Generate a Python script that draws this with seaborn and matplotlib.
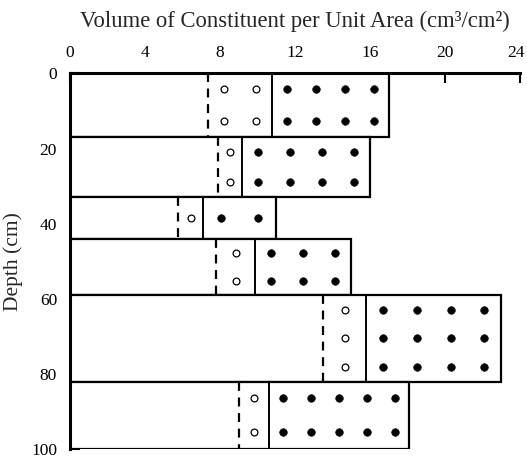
import numpy as np
import pandas as pd
import matplotlib
matplotlib.use("Agg")
import matplotlib.pyplot as plt
import matplotlib.transforms as mtransforms
import seaborn as sns

# Layer depth boundaries (cm)
layer_top = [0, 17, 33, 44, 59, 82]
layer_bottom = [17, 33, 44, 59, 82, 100]
# Cumulative volume (cm3/cm2): dashed line, solid divider, right edge
dashed_x = [7.4, 7.9, 5.8, 7.8, 13.5, 9.0]
divider_x = [10.8, 9.2, 7.1, 9.9, 15.8, 10.6]
total_x = [17.0, 16.0, 11.0, 15.0, 23.0, 18.1]

x_ticks = [0, 4, 8, 12, 16, 20, 24]
y_ticks = [0, 20, 40, 60, 80, 100]

sns.set_theme(style="white")
plt.rcParams["font.family"] = ["Liberation Serif", "DejaVu Serif"]

fig = plt.figure(figsize=(5.27, 4.65), dpi=100)
ax = fig.add_axes([0.132, 0.034, 0.855, 0.808])

# bars for each layer
thick = np.array(layer_bottom) - np.array(layer_top)
ax.barh(layer_top, total_x, height=thick, left=0, align="edge",
        color="white", edgecolor="black", linewidth=1.6, zorder=2)
ax.vlines(dashed_x, layer_top, layer_bottom, colors="black",
          linestyles=(0, (4, 3)), linewidth=1.6, zorder=3)
ax.vlines(divider_x, layer_top, layer_bottom, colors="black",
          linewidth=1.4, zorder=3)

# dot grids inside the open-circle and filled-dot parts
rows = []
for i in range(len(layer_top)):
    nrow = max(1, int(round(thick[i] / 8)))
    ys = layer_top[i] + thick[i] * (np.arange(nrow) + 0.5) / nrow
    for kind, a, b in [("open", dashed_x[i], divider_x[i]),
                       ("filled", divider_x[i], total_x[i])]:
        ncol = max(1, int(round((b - a) / 1.6)))
        xs = a + (b - a) * (np.arange(ncol) + 0.5) / ncol
        for x in xs:
            for y in ys:
                rows.append({"x": x, "y": y, "kind": kind})
dots = pd.DataFrame(rows)

sns.scatterplot(data=dots[dots.kind == "open"], x="x", y="y", ax=ax,
                marker="o", s=24, facecolor="white", edgecolor="black",
                linewidth=0.9, zorder=4, legend=False)
sns.scatterplot(data=dots[dots.kind == "filled"], x="x", y="y", ax=ax,
                marker="o", s=30, color="black", edgecolor="black",
                zorder=4, legend=False)

ax.set_xlim(0, 24)
ax.set_ylim(100, 0)
ax.xaxis.tick_top()
ax.xaxis.set_label_position("top")
ax.set_xticks(x_ticks)
ax.set_yticks(y_ticks)
ax.tick_params(axis="both", direction="in", length=7, width=1.5,
               labelsize=12.5, colors="black", pad=9)
ax.tick_params(axis="x", top=True, bottom=False)
ax.tick_params(axis="y", left=True, right=False)

# nudge the last x label ("24") left so it stays inside the figure
last = ax.get_xticklabels()[-1]
last.set_transform(last.get_transform() +
                   mtransforms.ScaledTranslation(-4 / 100, 0, fig.dpi_scale_trans))

for side in ["right", "bottom"]:
    ax.spines[side].set_visible(False)
for side in ["top", "left"]:
    ax.spines[side].set_linewidth(2.2)
    ax.spines[side].set_color("black")

ax.set_xlabel("Volume of Constituent per Unit Area (cm\u00b3/cm\u00b2)",
              fontsize=16.3, labelpad=13)
ax.set_ylabel("Depth (cm)", fontsize=15.5, labelpad=6)
ax.grid(False)

fig.savefig("out.png", dpi=100)
